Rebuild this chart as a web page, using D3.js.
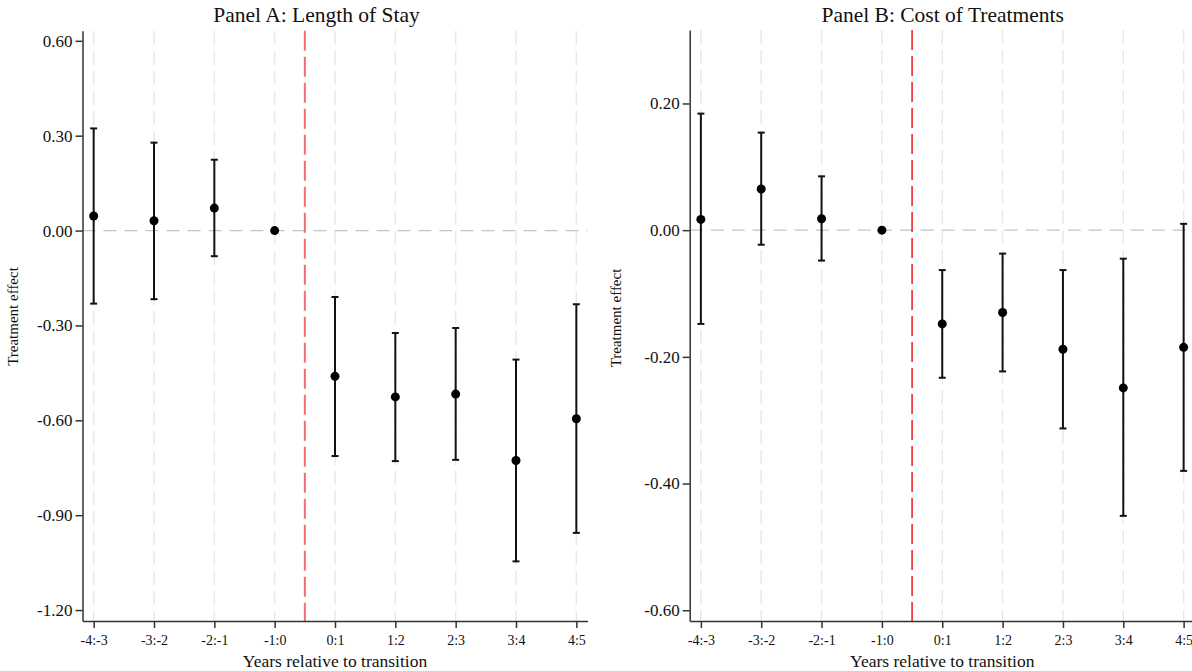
<!DOCTYPE html>
<html>
<head>
<meta charset="utf-8">
<script src="https://cdn.jsdelivr.net/npm/d3@7"></script>
<style>
  html, body { margin: 0; padding: 0; background: #fff; }
  svg { display: block; }
  text { font-family: "Liberation Serif", "Times New Roman", serif; fill: #111; }
</style>
</head>
<body>
<svg id="chart" width="1192" height="671"></svg>
<script>
// ---- Data ----
const categories = ["-4:-3", "-3:-2", "-2:-1", "-1:0", "0:1", "1:2", "2:3", "3:4", "4:5"];

const stayEst  = [0.046, 0.031, 0.071, 0.000, -0.461, -0.526, -0.517, -0.727, -0.595];
const stayLow  = [-0.231, -0.217, -0.081, null, -0.713, -0.729, -0.725, -1.046, -0.956];
const stayHigh = [0.323, 0.278, 0.224, null, -0.210, -0.324, -0.308, -0.408, -0.233];

const costEst  = [0.017, 0.065, 0.018, 0.000, -0.148, -0.130, -0.188, -0.249, -0.185];
const costLow  = [-0.148, -0.023, -0.048, null, -0.233, -0.223, -0.313, -0.451, -0.380];
const costHigh = [0.184, 0.154, 0.085, null, -0.063, -0.037, -0.063, -0.045, 0.010];

const stayTicks = [0.6, 0.3, 0.0, -0.3, -0.6, -0.9, -1.2];
const costTicks = [0.2, 0.0, -0.2, -0.4, -0.6];

const titles = ["Panel A: Length of Stay", "Panel B: Cost of Treatments"];
const xTitle = "Years relative to transition";
const yTitle = "Treatment effect";

// ---- Layout ----
const svg = d3.select("#chart");
const fmt = d3.formatLocale({decimal: ".", thousands: ",", grouping: [3], currency: ["", ""], minus: "-"}).format(".2f");

const panels = [
  { title: titles[0], est: stayEst, lo: stayLow, hi: stayHigh, ticks: stayTicks,
    x0: 82.5, x1: 587.5, yDom: [-1.2346, 0.632], top: 30.7, bottom: 621,
    titleX: 316.5, yLabX: 17.5, yLabY: 316.5, red: "#f26d6d", redW: 2 },
  { title: titles[1], est: costEst, lo: costLow, hi: costHigh, ticks: costTicks,
    x0: 689.7, x1: 1194.8, yDom: [-0.617, 0.316], top: 30, bottom: 621,
    titleX: 942.7, yLabX: 620.7, yLabY: 318, red: "#ee1c1c", redW: 1.5 }
];

panels.forEach(p => {
  const g = svg.append("g");
  const x = d3.scaleLinear().domain([-0.185, categories.length - 1 + 0.185]).range([p.x0, p.x1]);
  const y = d3.scaleLinear().domain(p.yDom).range([p.bottom, p.top]);

  // vertical grid
  g.selectAll(".vgrid").data(categories).join("line")
    .attr("x1", (d, i) => x(i)).attr("x2", (d, i) => x(i))
    .attr("y1", p.top).attr("y2", p.bottom)
    .attr("stroke", "#e9e9e9").attr("stroke-width", 1.5)
    .attr("stroke-dasharray", "14,6");

  // zero line
  g.append("line")
    .attr("x1", p.x0).attr("x2", p.x1)
    .attr("y1", y(0)).attr("y2", y(0))
    .attr("stroke", "#c4c4c4").attr("stroke-width", 1.3)
    .attr("stroke-dasharray", "13,8");

  // red transition line
  g.append("line")
    .attr("x1", x(3.5)).attr("x2", x(3.5))
    .attr("y1", p.top).attr("y2", p.bottom)
    .attr("stroke", p.red).attr("stroke-width", p.redW)
    .attr("stroke-dasharray", "20,6");

  // axes
  const yAxis = d3.axisLeft(y).tickValues(p.ticks).tickFormat(fmt).tickSize(7).tickPadding(3).tickSizeOuter(0);
  const ya = g.append("g").attr("transform", `translate(${p.x0},0)`).call(yAxis);
  ya.selectAll("text").style("font-size", "17px").style("font-family", '"Liberation Serif", "Times New Roman", serif').attr("fill", "#111");
  ya.selectAll("line, path").attr("stroke", "#333").attr("stroke-width", 1.5);

  const xAxis = d3.axisBottom(x).tickValues(d3.range(categories.length)).tickFormat(i => categories[i]).tickSize(7).tickPadding(7).tickSizeOuter(0);
  const xa = g.append("g").attr("transform", `translate(0,${p.bottom})`).call(xAxis);
  xa.selectAll("text").style("font-size", "14px").style("font-family", '"Liberation Serif", "Times New Roman", serif').attr("fill", "#111");
  xa.selectAll("line, path").attr("stroke", "#333").attr("stroke-width", 1.5);

  // error bars
  const idx = d3.range(categories.length).filter(i => p.lo[i] !== null);
  g.selectAll(".eb").data(idx).join("line")
    .attr("x1", i => x(i)).attr("x2", i => x(i))
    .attr("y1", i => y(p.lo[i])).attr("y2", i => y(p.hi[i]))
    .attr("stroke", "#111").attr("stroke-width", 2);
  ["lo", "hi"].forEach(k => {
    g.selectAll(".cap" + k).data(idx).join("line")
      .attr("x1", i => x(i) - 3.5).attr("x2", i => x(i) + 3.5)
      .attr("y1", i => y(p[k][i])).attr("y2", i => y(p[k][i]))
      .attr("stroke", "#111").attr("stroke-width", 2);
  });

  // points
  g.selectAll(".pt").data(p.est).join("circle")
    .attr("cx", (d, i) => x(i)).attr("cy", d => y(d))
    .attr("r", 4.5).attr("fill", "#000");

  // titles
  g.append("text").attr("x", p.titleX).attr("y", 22)
    .attr("text-anchor", "middle").style("font-size", "21.5px").text(p.title);
  g.append("text").attr("x", (p.x0 + p.x1) / 2).attr("y", 667)
    .attr("text-anchor", "middle").style("font-size", "17.5px").text(xTitle);
  g.append("text").attr("transform", `translate(${p.yLabX},${p.yLabY}) rotate(-90)`)
    .attr("text-anchor", "middle").style("font-size", "15px").text(yTitle);
});
</script>
</body>
</html>
